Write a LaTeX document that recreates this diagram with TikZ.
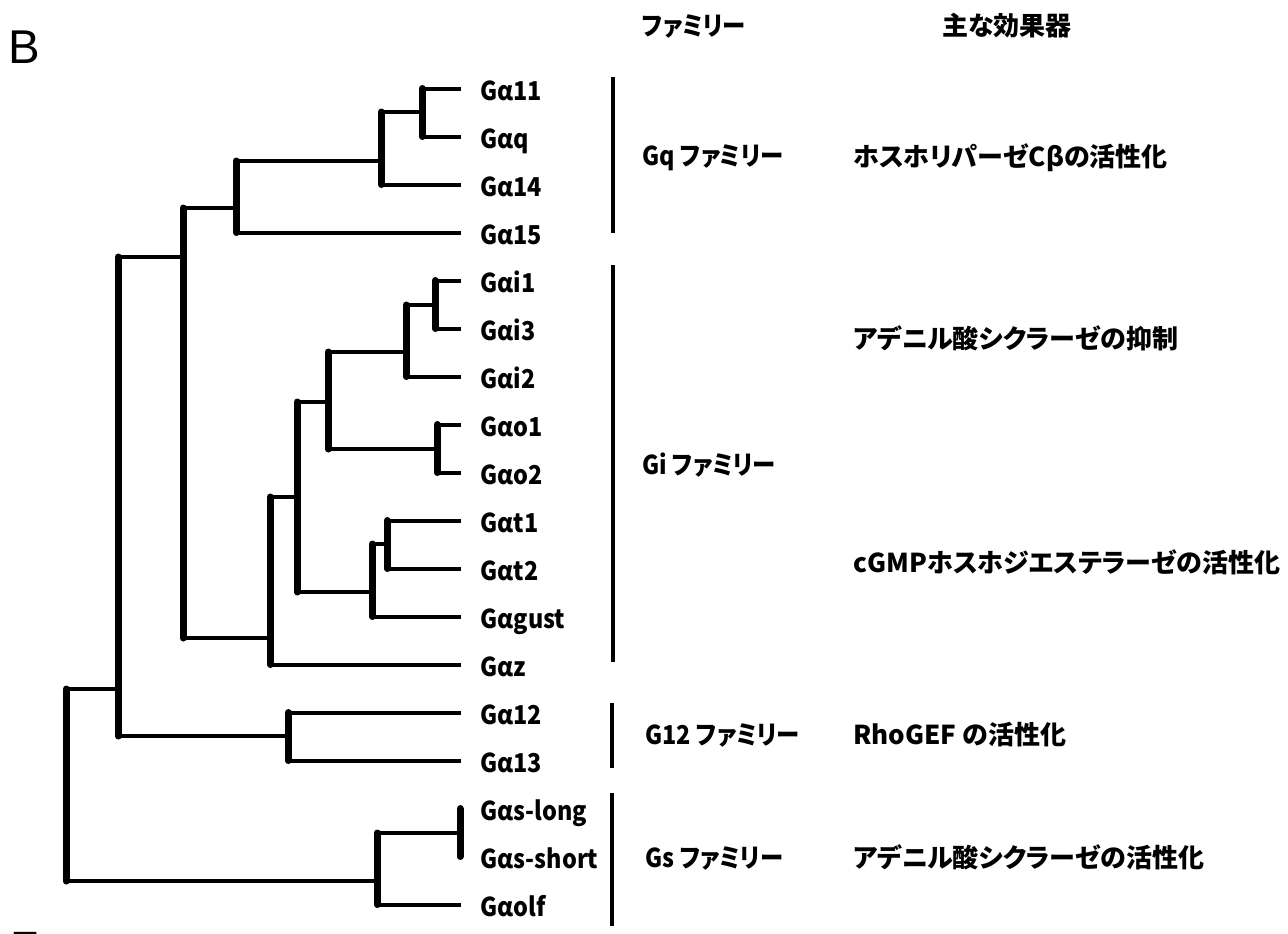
\documentclass[tikz,border=0pt]{standalone}
\usepackage{fontspec}
\setmainfont{Noto Sans CJK JP}[RawFeature=+palt]
\newfontfamily\narrowfont{Noto Sans CJK JP}[RawFeature=+palt, BoldFeatures={FakeStretch=0.9}]
\newfontfamily\bfont{Liberation Sans}
\begin{document}
\begin{tikzpicture}[x=0.5pt,y=-0.5pt,
  hline/.style={line width=2pt},
  vline/.style={line width=3.5pt, line cap=round},
  fbar/.style={line width=2pt},
  leaf/.style={anchor=base west, inner sep=0pt, font=\narrowfont\fontsize{13}{13}\selectfont\bfseries},
  fam/.style={anchor=base west, inner sep=0pt, font=\narrowfont\fontsize{13}{13}\selectfont\bfseries},
  txt/.style={anchor=base west, inner sep=0pt, font=\fontsize{13}{13}\selectfont\bfseries}]
\clip (0,0) rectangle (1288,933);
\fill[white] (0,0) rectangle (1288,933);

% panel letter and caption fragment
\node[anchor=base west, inner sep=0pt, font=\bfont\fontsize{23.7}{24}\selectfont] (panel) at (8,63) {B};
\node[txt] (fig) at (12,953.5) {図1};

% leaves
\foreach \n/\y/\t in {a11/88.5/Gα11, aq/136.5/Gαq, a14/184.5/Gα14, a15/232.5/Gα15,
  i1/280.5/Gαi1, i3/328.5/Gαi3, i2/376.5/Gαi2, o1/424.5/Gαo1, o2/472.5/Gαo2,
  t1/520.5/Gαt1, t2/568.5/Gαt2, gust/616.5/Gαgust, z/664.5/Gαz,
  a12/712.5/Gα12, a13/760.5/Gα13, sl/808.5/Gαs-long, ss/856.5/Gαs-short, olf/904.5/Gαolf}{
  \coordinate (tip-\n) at (461,\y);
  \node[leaf] (lab-\n) at (480,\y+12) {\t};
}

% internal nodes
\coordinate (A) at (422,112);
\coordinate (B) at (381,161);
\coordinate (C) at (236,208);
\coordinate (D) at (435,305);
\coordinate (E) at (406,352);
\coordinate (F) at (437,449);
\coordinate (G) at (328,402);
\coordinate (H) at (387,544);
\coordinate (I) at (372,592);
\coordinate (J) at (297,497);
\coordinate (K) at (270,638);
\coordinate (L) at (183,257);
\coordinate (M) at (288,736);
\coordinate (N) at (118,689);
\coordinate (O) at (460,833);
\coordinate (P) at (377,881);
\coordinate (R) at (66,785);

% horizontal branches
\foreach \p/\c in {A/tip-a11, A/tip-aq, B/tip-a14, C/tip-a15, D/tip-i1, D/tip-i3, E/tip-i2,
  F/tip-o1, F/tip-o2, H/tip-t1, H/tip-t2, I/tip-gust, K/tip-z, M/tip-a12, M/tip-a13, P/tip-olf,
  B/A, C/B, E/D, G/E, G/F, I/H, J/G, J/I, K/J, L/C, L/K, N/L, N/M, P/O, R/N, R/P}{
  \draw[hline] (\p |- \c) -- (\c);
}

% vertical lines
\foreach \p/\a/\b in {A/tip-a11/tip-aq, B/A/tip-a14, C/B/tip-a15, D/tip-i1/tip-i3, E/D/tip-i2,
  F/tip-o1/tip-o2, G/E/F, H/tip-t1/tip-t2, I/H/tip-gust, J/G/I, K/J/tip-z, L/C/K,
  M/tip-a12/tip-a13, N/L/M, O/tip-sl/tip-ss, P/O/tip-olf, R/N/P}{
  \draw[vline] (\p |- \a) -- (\p |- \b);
}

% family bars
\draw[fbar] (613,77) -- (613,233);
\draw[fbar] (613,265) -- (613,662);
\draw[fbar] (612,703) -- (612,768);
\draw[fbar] (612,793) -- (612,926);

% headers
\node[fam] (hfam) at (642,35) {ファミリー};
\node[txt] (heff) at (942,35) {主な効果器};

% families
\node[fam] (fq) at (642,165) {Gq ファミリー};
\node[fam] (fi) at (642,474) {Gi ファミリー};
\node[fam] (f12) at (645,744) {G12 ファミリー};
\node[fam] (fs) at (645,867) {Gs ファミリー};

% effectors
\node[txt] (eq) at (853,166) {ホスホリパーゼCβの活性化};
\node[txt] (ei1) at (853,348) {アデニル酸シクラーゼの抑制};
\node[txt] (ei2) at (853,572) {cGMPホスホジエステラーゼの活性化};
\node[txt] (e12) at (853,744) {RhoGEF の活性化};
\node[txt] (es) at (853,867) {アデニル酸シクラーゼの活性化};
\end{tikzpicture}
\end{document}
